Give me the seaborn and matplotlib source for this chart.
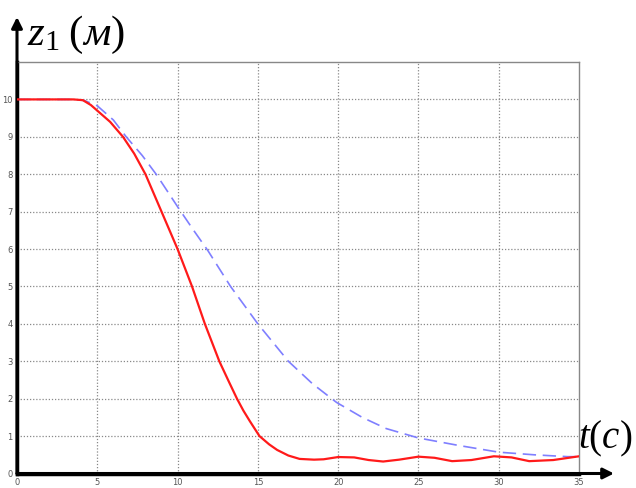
import numpy as np
import pandas as pd
import matplotlib
matplotlib.use("Agg")
import matplotlib.pyplot as plt
import seaborn as sns

# ---- data ----
red_t = [0, 2, 3.5, 4.1, 4.6, 5, 5.8, 6.6, 7.3, 8, 9, 10, 10.9, 11.7, 12.6, 13.2, 13.7,
         14.1, 14.5, 15.1, 15.7, 16.2, 16.9, 17.6, 18.5, 19.1, 20.0, 21.0, 21.9, 22.8,
         23.8, 25.0, 26.0, 27.1, 28.3, 29.7, 30.8, 31.9, 33.4, 35]
red_z = [10, 10, 10, 9.98, 9.85, 9.7, 9.4, 9.0, 8.55, 8.0, 7.0, 6.0, 5.0, 4.0, 3.0, 2.45,
         2.0, 1.68, 1.4, 1.0, 0.78, 0.63, 0.48, 0.39, 0.37, 0.38, 0.44, 0.43, 0.36, 0.32,
         0.37, 0.45, 0.42, 0.33, 0.36, 0.46, 0.43, 0.33, 0.36, 0.46]

blue_t = [0, 3.5, 4.2, 5, 6, 6.8, 7.8, 8.7, 10.05, 11.0, 11.9, 13.3, 15.0, 16.9, 18.4,
          19.9, 21.5, 23.0, 25.0, 27.5, 30.0, 32.2, 34.3, 35]
blue_z = [10, 10, 9.97, 9.83, 9.45, 9.0, 8.5, 7.98, 7.1, 6.5, 5.95, 5.0, 4.0, 3.0, 2.4,
          1.9, 1.5, 1.2, 0.95, 0.75, 0.57, 0.5, 0.45, 0.45]

x_ticks = [0, 5, 10, 15, 20, 25, 30, 35]
y_ticks = [0, 1, 2, 3, 4, 5, 6, 7, 8, 9, 10]

sns.set_style("white")
plt.rcParams['mathtext.fontset'] = 'custom'
plt.rcParams['mathtext.rm'] = 'Liberation Serif'
plt.rcParams['mathtext.it'] = 'Liberation Serif:italic'

W, H = 636, 488
fig = plt.figure(figsize=(W / 100, H / 100), dpi=100)
ax = fig.add_axes([17 / W, 14.5 / H, (579 - 17) / W, (473.5 - 62) / H])

df_blue = pd.DataFrame({"t": blue_t, "z": blue_z})
df_red = pd.DataFrame({"t": red_t, "z": red_z})

sns.lineplot(data=df_blue, x="t", y="z", ax=ax, color="#7f7fff", linewidth=1.2,
             linestyle=(0, (8, 4)), sort=False, zorder=3)
sns.lineplot(data=df_red, x="t", y="z", ax=ax, color="#ff1a1a", linewidth=1.6,
             sort=False, zorder=4)

ax.set_xlim(0, 35)
ax.set_ylim(0, 11)
ax.set_xticks(x_ticks)
ax.set_yticks(y_ticks)
ax.set_xticklabels([str(v) for v in x_ticks])
ax.set_yticklabels([str(v) for v in y_ticks])
ax.set_xlabel("")
ax.set_ylabel("")
ax.tick_params(axis="both", length=0, labelsize=6, labelcolor="#555555", pad=3)

for v in x_ticks[1:-1]:
    ax.axvline(v, color="#888888", linestyle=(0, (1, 1.5)), linewidth=0.9, zorder=1)
for v in y_ticks[1:]:
    ax.axhline(v, color="#888888", linestyle=(0, (1, 1.5)), linewidth=0.9, zorder=1)

for s in ["top", "right"]:
    ax.spines[s].set_color("#888888")
    ax.spines[s].set_linewidth(1.0)
for s in ["left", "bottom"]:
    ax.spines[s].set_color("black")
    ax.spines[s].set_linewidth(2.5)

# axis arrows
ax.annotate("", xy=(17, H - 17), xytext=(17, 14.5), xycoords="figure pixels",
            textcoords="figure pixels",
            arrowprops=dict(arrowstyle="-|>", lw=2.2, color="black", mutation_scale=16,
                            shrinkA=0, shrinkB=0), annotation_clip=False)
ax.annotate("", xy=(614, 14.5), xytext=(17, 14.5), xycoords="figure pixels",
            textcoords="figure pixels",
            arrowprops=dict(arrowstyle="-|>", lw=2.2, color="black", mutation_scale=16,
                            shrinkA=0, shrinkB=0), annotation_clip=False)

fig.text(27 / W, (H - 35) / H, r"$z_1\;(м)$", fontsize=31, ha="left", va="center",
         color="black")
fig.text(632 / W, (H - 439) / H, r"$t(c)$", fontsize=28, ha="right", va="center",
         color="black")

fig.savefig("out.png", dpi=100)
